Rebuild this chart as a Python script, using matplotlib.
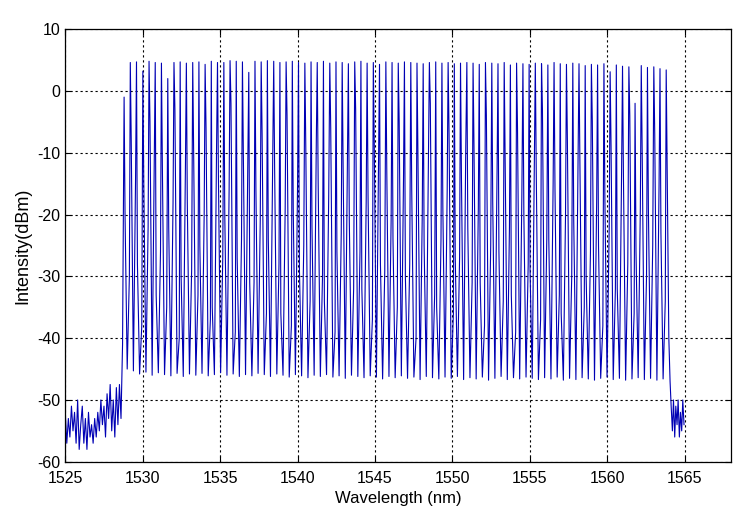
import matplotlib
matplotlib.use("Agg")
import matplotlib.pyplot as plt

plt.rcParams["font.family"] = ["Liberation Sans", "DejaVu Sans"]
plt.rcParams["axes.unicode_minus"] = False

# channel centre wavelengths (nm)
channel_wl = [
    1528.80, 1529.20, 1529.60, 1530.01, 1530.41, 1530.81, 1531.21, 1531.62, 1532.02, 1532.42, 1532.82,
    1533.23, 1533.63, 1534.03, 1534.43, 1534.83, 1535.24, 1535.64, 1536.04, 1536.44, 1536.85, 1537.25,
    1537.65, 1538.05, 1538.46, 1538.86, 1539.26, 1539.66, 1540.06, 1540.47, 1540.87, 1541.27, 1541.67,
    1542.08, 1542.48, 1542.88, 1543.28, 1543.69, 1544.09, 1544.49, 1544.89, 1545.29, 1545.70, 1546.10,
    1546.50, 1546.90, 1547.31, 1547.71, 1548.11, 1548.51, 1548.92, 1549.32, 1549.72, 1550.12, 1550.52,
    1550.93, 1551.33, 1551.73, 1552.13, 1552.54, 1552.94, 1553.34, 1553.74, 1554.14, 1554.55, 1554.95,
    1555.35, 1555.75, 1556.16, 1556.56, 1556.96, 1557.36, 1557.77, 1558.17, 1558.57, 1558.97, 1559.37,
    1559.78, 1560.18, 1560.58, 1560.98, 1561.39, 1561.79, 1562.19, 1562.59, 1563.00, 1563.40, 1563.80,
]

# peak level of each channel (dBm)
peak_dbm = [
    -1.0, 4.6, 4.7, 3.2, 4.8, 4.6, 4.5, 2.0, 4.6, 4.7, 4.5,
    4.6, 4.7, 4.3, 4.8, 4.6, 4.6, 4.9, 4.8, 4.7, 3.0, 4.8,
    4.7, 4.9, 4.8, 4.6, 4.7, 4.8, 4.6, 4.5, 4.7, 4.6, 4.8,
    4.5, 4.7, 4.6, 4.4, 4.7, 4.8, 4.5, 4.6, 4.3, 4.7, 4.6,
    4.5, 4.7, 4.6, 4.5, 4.4, 4.6, 4.7, 4.5, 4.6, 4.4, 4.5,
    4.6, 4.5, 4.3, 4.6, 4.5, 4.4, 4.6, 4.2, 4.5, 4.4, 4.3,
    4.5, 4.4, 4.2, 4.6, 4.4, 4.3, 4.5, 4.4, 4.1, 4.3, 4.2,
    4.4, 3.1, 4.2, 4.0, 3.9, -2.0, 4.1, 3.8, 3.9, 3.6, 3.4,
]

# sample just after each peak (falling edge)
fall_dbm = [
    -20, -8, -28, -15, -5, -33, -12, -22, -3, -30, -18,
    -10, -25, -6, -35, -14, -20, -2, -27, -11, -31, -16,
    -7, -24, -13, -36, -4, -19, -29, -9, -22, -15, -34,
    -6, -26, -12, -21, -3, -32, -17, -8, -28, -13, -24,
    -5, -30, -16, -10, -25, -2, -35, -19, -7, -27, -14,
    -22, -9, -31, -4, -18, -26, -11, -33, -6, -20, -29,
    -13, -3, -24, -16, -36, -8, -21, -12, -30, -5, -25,
    -17, -9, -32, -14, -4, -26, -10, -19, -7, -23,
]

# floor between channels
trough_dbm = [
    -45.0, -45.3, -45.8, -45.5, -46.0, -45.6, -45.9, -46.1, -45.7, -46.2, -45.8,
    -46.0, -45.7, -46.1, -45.9, -45.6, -46.0, -45.8, -46.2, -45.9, -46.1, -45.7,
    -45.9, -46.2, -45.8, -46.0, -46.3, -45.9, -46.1, -46.4, -46.0, -46.2, -45.9,
    -46.3, -46.1, -46.5, -46.0, -46.2, -46.4, -46.1, -46.3, -46.6, -46.2, -46.4,
    -46.1, -46.5, -46.3, -46.7, -46.2, -46.4, -46.6, -46.3, -46.5, -46.2, -46.7,
    -46.4, -46.6, -46.3, -46.8, -46.5, -46.2, -46.7, -46.4, -46.6, -46.3, -46.5,
    -46.7, -46.4, -46.6, -46.3, -46.8, -46.5, -46.7, -46.4, -46.6, -46.8, -46.5,
    -46.3, -46.7, -46.5, -46.8, -46.6, -46.4, -46.7, -46.5, -46.8, -46.6,
]

# sample just before the next peak (rising edge)
rise_dbm = [
    -30, -14, -38, -22, -10, -26, -35, -18, -40, -12, -29,
    -33, -20, -37, -9, -27, -16, -39, -24, -13, -31, -21,
    -36, -11, -28, -19, -38, -15, -25, -34, -8, -30, -17,
    -39, -23, -12, -32, -26, -18, -37, -10, -29, -21, -35,
    -14, -28, -40, -20, -11, -33, -24, -16, -36, -27, -9,
    -31, -19, -38, -25, -13, -34, -22, -39, -17, -28, -12,
    -37, -24, -15, -33, -20, -30, -10, -35, -26, -18, -38,
    -22, -32, -13, -28, -36, -19, -30, -25, -15, -34,
]

# ASE noise below the first channel
left_wl = [
    1525.0, 1525.1, 1525.2, 1525.3, 1525.4, 1525.5, 1525.6, 1525.7, 1525.8, 1525.9,
    1526.0, 1526.1, 1526.2, 1526.3, 1526.4, 1526.5, 1526.6, 1526.7, 1526.8, 1526.9,
    1527.0, 1527.1, 1527.2, 1527.3, 1527.4, 1527.5, 1527.6, 1527.7, 1527.8, 1527.9,
    1528.0, 1528.1, 1528.2, 1528.3, 1528.4, 1528.5, 1528.6, 1528.65, 1528.7,
]
left_dbm = [
    -52, -57, -53, -56, -51, -55, -52, -57, -50, -58,
    -54, -51, -57, -53, -58, -52, -56, -54, -57, -53,
    -56, -52, -55, -50, -54, -51, -56, -49, -53, -47.5,
    -55, -50, -56, -48, -54, -47.5, -53, -47, -41,
]

# ASE noise above the last channel
right_wl = [
    1563.90, 1563.97, 1564.05, 1564.12, 1564.20, 1564.27, 1564.35, 1564.42,
    1564.50, 1564.57, 1564.65, 1564.72, 1564.80, 1564.87, 1564.95,
]
right_dbm = [
    -22, -40, -47, -51, -55, -50, -56, -51,
    -54, -50, -56, -52, -55, -50, -54,
]

wl = list(left_wl)
dbm = list(left_dbm)
for i, c in enumerate(channel_wl):
    wl.append(c)
    dbm.append(peak_dbm[i])
    if i < len(fall_dbm):
        wl += [c + 0.06, c + 0.2, c + 0.34]
        dbm += [fall_dbm[i], trough_dbm[i], rise_dbm[i]]
wl += right_wl
dbm += right_dbm

fig = plt.figure(figsize=(7.5, 5.2), dpi=100)
ax = fig.add_axes([0.087, 0.112, 0.888, 0.832])
ax.plot(wl, dbm, color="#0000b4", lw=0.8)

ax.set_xlim(1525, 1568)
ax.set_ylim(-60, 10)
ax.set_xticks([1525, 1530, 1535, 1540, 1545, 1550, 1555, 1560, 1565])
ax.set_yticks([-60, -50, -40, -30, -20, -10, 0, 10])
ax.grid(True, color="black", linestyle=(0, (2, 2.5)), linewidth=0.8)
ax.tick_params(direction="in", length=4, top=True, right=True, labelsize=11.5)
ax.tick_params(axis="x", pad=7)
for s in ax.spines.values():
    s.set_linewidth(0.9)

ax.set_xlabel("Wavelength (nm)", fontsize=12, labelpad=3)
ax.set_ylabel("Intensity(dBm)", fontsize=13, labelpad=4)

fig.savefig("out.png", dpi=100)
plt.close(fig)
